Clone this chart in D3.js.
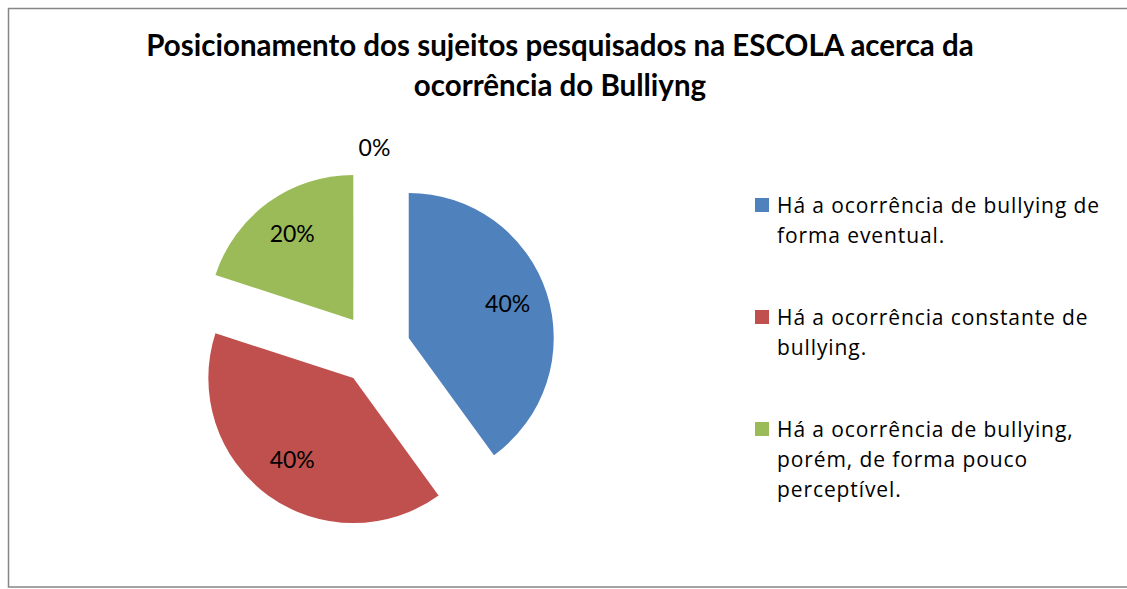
<!DOCTYPE html>
<html>
<head>
<meta charset="utf-8">
<script src="https://cdn.jsdelivr.net/npm/d3@7"></script>
<style>
  body { margin: 0; background: #fff; }
  text { font-family: Lato, "Liberation Sans", sans-serif; fill: #000; }
</style>
</head>
<body>
<div id="chart"></div>
<script>
// Chart data.
const categories = [
  "Há a ocorrência de bullying de forma eventual.",
  "Há a ocorrência constante de bullying.",
  "Há a ocorrência de bullying, porém, de forma pouco perceptível.",
  ""
];
const values = [40, 40, 20, 0];
const legendLines = [
  ["Há a ocorrência de bullying de", "forma eventual."],
  ["Há a ocorrência constante de", "bullying."],
  ["Há a ocorrência de bullying,", "porém, de forma pouco", "perceptível."]
];
const colors = ["#4F81BD", "#C0504D", "#9BBB59", "#8064A2"];
const titleLines = ["Posicionamento dos sujeitos pesquisados na ESCOLA acerca da", "ocorrência do Bulliyng"];

const width = 1127, height = 589;
const cx = 374.5, cy = 349, radius = 145, explode = 36;

const svg = d3.select("#chart").append("svg")
  .attr("width", width)
  .attr("height", height);

// Outer border of the chart area.
svg.append("rect")
  .attr("x", 8.5).attr("y", 8.5)
  .attr("width", 1130).attr("height", 578.5)
  .attr("fill", "none")
  .attr("stroke", "#868686")
  .attr("stroke-width", 1.5);

// Title.
svg.append("text")
  .attr("text-anchor", "middle")
  .style("font-weight", "bold")
  .style("font-size", "29.5px")
  .selectAll("tspan")
  .data(titleLines)
  .enter()
  .append("tspan")
    .attr("x", 560)
    .attr("y", (d, i) => 56 + i * 40)
    .text(d => d);

// Pie slices, each pulled out from the centre along its bisector.
const pie = d3.pie().sort(null).value(d => d);
const arc = d3.arc().innerRadius(0).outerRadius(radius);
const arcs = pie(values);

const shift = d => {
  const a = (d.startAngle + d.endAngle) / 2;
  return [Math.sin(a) * explode, -Math.cos(a) * explode];
};

const g = svg.append("g").attr("transform", "translate(" + cx + "," + cy + ")");

g.selectAll("path")
  .data(arcs)
  .enter()
  .append("path")
    .attr("d", arc)
    .attr("fill", (d, i) => colors[i])
    .attr("transform", d => "translate(" + shift(d) + ")");

// Percentage labels.
const labelDist = 104;
const labelPos = d => {
  const a = (d.startAngle + d.endAngle) / 2;
  const r = d.value === 0 ? radius + 18 : labelDist;
  const s = shift(d);
  return [s[0] + Math.sin(a) * r, s[1] - Math.cos(a) * r];
};

g.selectAll(".lbl")
  .data(arcs)
  .enter()
  .append("text")
    .attr("class", "lbl")
    .attr("text-anchor", "middle")
    .attr("dy", "0.26em")
    .style("font-size", "23px")
    .attr("x", d => labelPos(d)[0])
    .attr("y", d => labelPos(d)[1])
    .text(d => d.value + "%");

// Legend.
const legend = svg.append("g").attr("transform", "translate(755,198)");
const item = legend.selectAll(".item")
  .data(legendLines)
  .enter()
  .append("g")
    .attr("class", "item")
    .attr("transform", (d, i) => "translate(0," + i * 112 + ")");

item.append("rect")
  .attr("width", 14).attr("height", 14)
  .attr("fill", (d, i) => colors[i]);

item.append("text")
  .style("font-family", "'Open Sans', sans-serif")
  .style("font-size", "21px")
  .style("letter-spacing", "0.9px")
  .selectAll("tspan")
  .data(d => d)
  .enter()
  .append("tspan")
    .attr("x", 22)
    .attr("y", (d, i) => 15 + i * 30)
    .text(d => d);
</script>
</body>
</html>
